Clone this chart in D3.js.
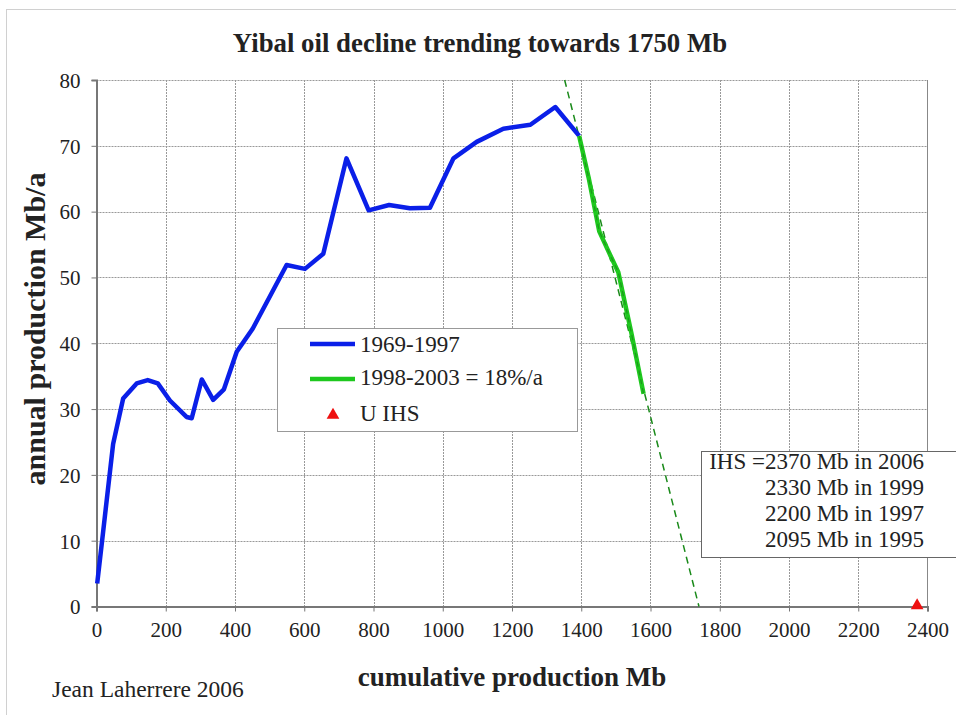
<!DOCTYPE html>
<html><head><meta charset="utf-8">
<script src="https://cdn.jsdelivr.net/npm/d3@7"></script>
<style>body{margin:0;background:#fff}svg{display:block}text{font-family:"Liberation Serif","Times New Roman",serif;fill:#222}</style>
</head><body><svg id="c" width="956" height="715"></svg>
<script>
// Data
const blueCum = [2, 19, 48, 77, 116, 148, 177, 212, 260, 275, 304, 337, 368, 405, 451, 549, 602, 655, 722, 786, 845, 905, 963, 1031, 1098, 1175, 1253, 1325, 1394];
const blueProd = [3.5, 11.3, 24.7, 31.6, 33.9, 34.4, 33.9, 31.3, 28.8, 28.6, 34.5, 31.4, 33.0, 38.7, 42.2, 51.9, 51.3, 53.6, 68.1, 60.2, 61.0, 60.5, 60.6, 68.1, 70.6, 72.6, 73.2, 75.9, 71.5];
const greenCum = [1394, 1422, 1452, 1480, 1507, 1545, 1580];
const greenProd = [71.5, 65.0, 57.0, 53.8, 50.8, 41.5, 32.3];
const trendCum = [1352, 1740];
const trendProd = [80, 0];
const ihsCum = [2370];
const ihsProd = [0];
const xTicks = [0,200,400,600,800,1000,1200,1400,1600,1800,2000,2200,2400];
const yTicks = [0,10,20,30,40,50,60,70,80];
const legendLabels = ["1969-1997", "1998-2003 = 18%/a", "U IHS"];
const noteLines = ["IHS =2370 Mb in 2006", "2330 Mb in 1999", "2200 Mb in 1997", "2095 Mb in 1995"];

const svg = d3.select("#c");
const L = 96.5, R = 927.5, T = 80, B = 606.5;
const x = d3.scaleLinear().domain([0, 2400]).range([L, R]);
const y = d3.scaleLinear().domain([0, 80]).range([B, T]);

// outer frame
svg.append("rect").attr("x", 6.5).attr("y", 9.5).attr("width", 960).attr("height", 720)
  .attr("fill", "none").attr("stroke", "#d0d0d0").attr("stroke-width", 1);

// grid
const g = svg.append("g");
g.selectAll(".vg").data(xTicks.slice(1, -1)).join("line")
  .attr("x1", d => Math.round(x(d)) + 0.5).attr("x2", d => Math.round(x(d)) + 0.5)
  .attr("y1", T).attr("y2", B).attr("stroke", "#999").attr("stroke-dasharray", "2,1").attr("stroke-width", 1);
g.selectAll(".hg").data(yTicks.slice(1)).join("line")
  .attr("y1", d => Math.round(y(d)) + 0.5).attr("y2", d => Math.round(y(d)) + 0.5)
  .attr("x1", L).attr("x2", R).attr("stroke", "#999").attr("stroke-dasharray", "2,1").attr("stroke-width", 1);
svg.append("line").attr("x1", R).attr("x2", R).attr("y1", T).attr("y2", B).attr("stroke", "#888");

// axes
const xAxis = d3.axisBottom(x).tickValues(xTicks).tickSize(5).tickPadding(11).tickFormat(d3.format("d"));
const yAxis = d3.axisLeft(y).tickValues(yTicks).tickSize(5).tickPadding(11).tickFormat(d3.format("d"));
const gx = svg.append("g").attr("transform", `translate(0,${B})`).call(xAxis);
const gy = svg.append("g").attr("transform", `translate(${L},0)`).call(yAxis);
[gx, gy].forEach(a => {
  a.attr("font-family", null).attr("font-size", null);
  a.select(".domain").attr("stroke", "#777").attr("stroke-width", 2);
  a.selectAll(".tick line").attr("stroke", "#777");
  a.selectAll(".tick text").style("font-family", '"Liberation Serif",serif').style("font-size", "21px").attr("fill", "#222");
});
gy.selectAll(".tick text").attr("dy", "0.35em");

// trend line (dashed)
const line = d3.line().x(d => x(d[0])).y(d => y(d[1]));
svg.append("path").datum(d3.zip(trendCum, trendProd)).attr("d", line)
  .attr("fill", "none").attr("stroke", "#1a8a1a").attr("stroke-width", 1.5).attr("stroke-dasharray", "7,5");

// blue series
svg.append("path").datum(d3.zip(blueCum, blueProd)).attr("d", line)
  .attr("fill", "none").attr("stroke", "#0a1fe8").attr("stroke-width", 4.5).attr("stroke-linejoin", "round");
// green series
svg.append("path").datum(d3.zip(greenCum, greenProd)).attr("d", line)
  .attr("fill", "none").attr("stroke", "#1ec81e").attr("stroke-width", 4.5).attr("stroke-linejoin", "round");
svg.append("path").datum(d3.zip(greenCum, greenProd)).attr("d", line)
  .attr("fill", "none").attr("stroke", "#1a7a1a").attr("stroke-width", 1.2).attr("stroke-dasharray", "5,4").attr("opacity", 0.6);

// IHS triangle
const tri = d3.symbol().type(d3.symbolTriangle).size(70);
svg.selectAll(".ihs").data(d3.zip(ihsCum, ihsProd)).join("path")
  .attr("d", tri).attr("transform", d => `translate(${x(d[0])},${y(d[1]) - 1})`).attr("fill", "#ee1111");

// legend
const lg = svg.append("g");
lg.append("rect").attr("x", 277.5).attr("y", 328.5).attr("width", 300).attr("height", 103)
  .attr("fill", "#fff").attr("stroke", "#999");
const ly = [344, 379, 416];
const lbase = [352, 385, 421];
lg.append("line").attr("x1", 310).attr("x2", 355).attr("y1", ly[0]).attr("y2", ly[0]).attr("stroke", "#0a1fe8").attr("stroke-width", 4.5);
lg.append("line").attr("x1", 310).attr("x2", 355).attr("y1", ly[1]).attr("y2", ly[1]).attr("stroke", "#1ec81e").attr("stroke-width", 4.5);
lg.append("path").attr("d", tri).attr("transform", `translate(333,${ly[2] - 1})`).attr("fill", "#ee1111");
lg.selectAll(".lt").data(legendLabels).join("text")
  .attr("x", 360).attr("y", (d, i) => lbase[i]).style("font-size", "23px").text(d => d);

// note box
const nb = svg.append("g");
nb.append("rect").attr("x", 701.5).attr("y", 451.5).attr("width", 260).attr("height", 106)
  .attr("fill", "#fff").attr("stroke", "#666");
nb.selectAll(".nt").data(noteLines).join("text")
  .attr("x", 924).attr("y", (d, i) => 469 + i * 26).attr("text-anchor", "end")
  .style("font-size", "23px").text(d => d);

// titles
svg.append("text").attr("x", 480).attr("y", 52).attr("text-anchor", "middle")
  .style("font-size", "26.8px").style("font-weight", "bold").text("Yibal oil decline trending towards 1750 Mb");
svg.append("text").attr("x", 512).attr("y", 686).attr("text-anchor", "middle")
  .style("font-size", "27px").style("font-weight", "bold").text("cumulative production Mb");
svg.append("text").attr("transform", "translate(45,329) rotate(-90)").attr("text-anchor", "middle")
  .style("font-size", "30px").style("font-weight", "bold").text("annual production Mb/a");
svg.append("text").attr("x", 52).attr("y", 697).style("font-size", "23.5px").text("Jean Laherrere 2006");
</script></body></html>
